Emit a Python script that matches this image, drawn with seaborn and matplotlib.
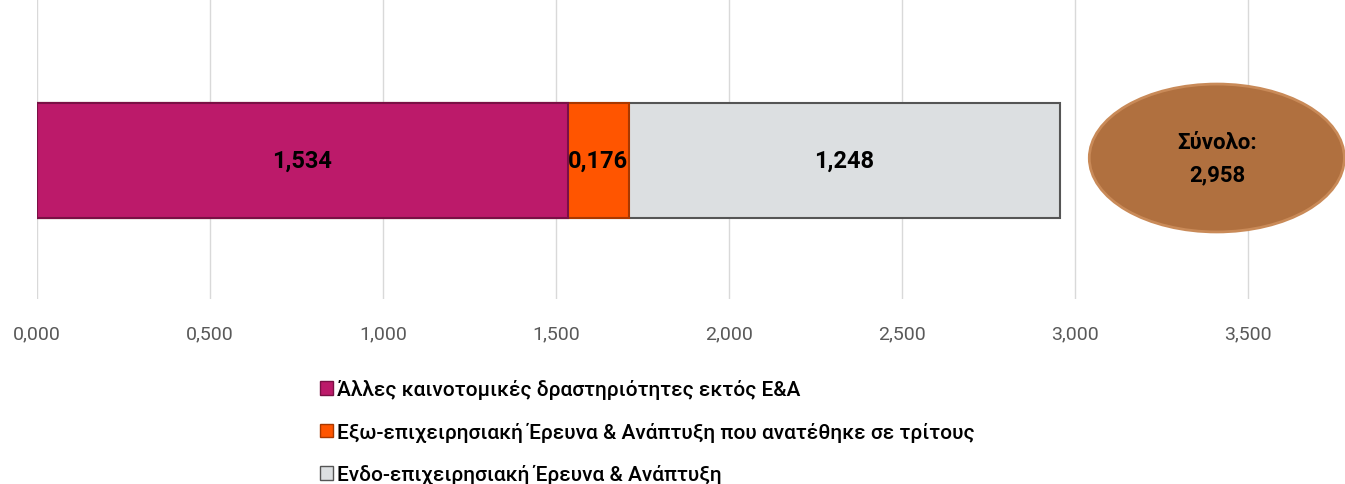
import numpy as np
import pandas as pd
import matplotlib.pyplot as plt
import seaborn as sns
from matplotlib.patches import Ellipse, Patch

# data
categories = [
    "Άλλες καινοτομικές δραστηριότητες εκτός Ε&Α",
    "Εξω-επιχειρησιακή Έρευνα & Ανάπτυξη που ανατέθηκε σε τρίτους",
    "Ενδο-επιχειρησιακή Έρευνα & Ανάπτυξη",
]
values = [1.534, 0.176, 1.248]
total_label = "Σύνολο:\n2,958"
x_ticks = [0, 0.5, 1.0, 1.5, 2.0, 2.5, 3.0, 3.5]

colors = ["#BC1A6A", "#FF5500", "#DCDFE1"]
edges = ["#7A1045", "#A83800", "#555555"]

sns.set_style("white")
plt.rcParams["font.family"] = ["Roboto", "DejaVu Sans"]

fig = plt.figure(figsize=(13.45, 4.85), dpi=100)
ax = fig.add_axes([37 / 1345, 185 / 485, 1 - 37 / 1345, 300 / 485])

# stacked bar: draw cumulative totals from largest to smallest
cum = np.cumsum(values)
for i in reversed(range(len(values))):
    df = pd.DataFrame({"val": [cum[i]], "cat": [""]})
    sns.barplot(data=df, x="val", y="cat", orient="h", color=colors[i],
                saturation=1, width=0.8, edgecolor=edges[i], linewidth=1.5, ax=ax)

# value labels in segments
starts = cum - np.array(values)
for s, v in zip(starts, values):
    ax.text(s + v / 2, 0, f"{v:.3f}".replace(".", ","), ha="center", va="center",
            fontsize=17, fontweight="bold", color="black")

ax.set_xlim(0, (1345 - 37) / 346)
ax.set_ylim(0.96, -1.12)
ax.set_xticks(x_ticks)
ax.set_xticklabels([f"{t:.3f}".replace(".", ",") for t in x_ticks],
                   fontsize=14, color="#595959")
ax.tick_params(axis="x", length=0, pad=18)
ax.set_yticks([])
ax.set_xlabel("")
ax.set_ylabel("")
ax.grid(axis="x", color="#D9D9D9", linewidth=1)
ax.set_axisbelow(True)
for sp in ax.spines.values():
    sp.set_visible(False)

# total ellipse
ell = Ellipse((0.902, 0.47), 0.195, 0.493, transform=ax.transAxes,
              facecolor="#B0703F", edgecolor="#C98A58", linewidth=2, clip_on=False)
ax.add_patch(ell)
ax.text(0.902, 0.47, total_label, transform=ax.transAxes, ha="center", va="center",
        fontsize=16, fontweight="bold", linespacing=1.6, color="black")

# legend
handles = [Patch(facecolor=c, edgecolor=e) for c, e in zip(colors, edges)]
leg = fig.legend(handles, categories, loc="upper left",
                 bbox_to_anchor=(312 / 1345, 1 - 372 / 485),
                 frameon=False, fontsize=15, handlelength=0.6, handleheight=0.6,
                 handletextpad=0.2, labelspacing=1.08, borderaxespad=0)
for t in leg.get_texts():
    t.set_color("black")
    t.set_fontweight("medium")

plt.savefig("out.png", dpi=100)
